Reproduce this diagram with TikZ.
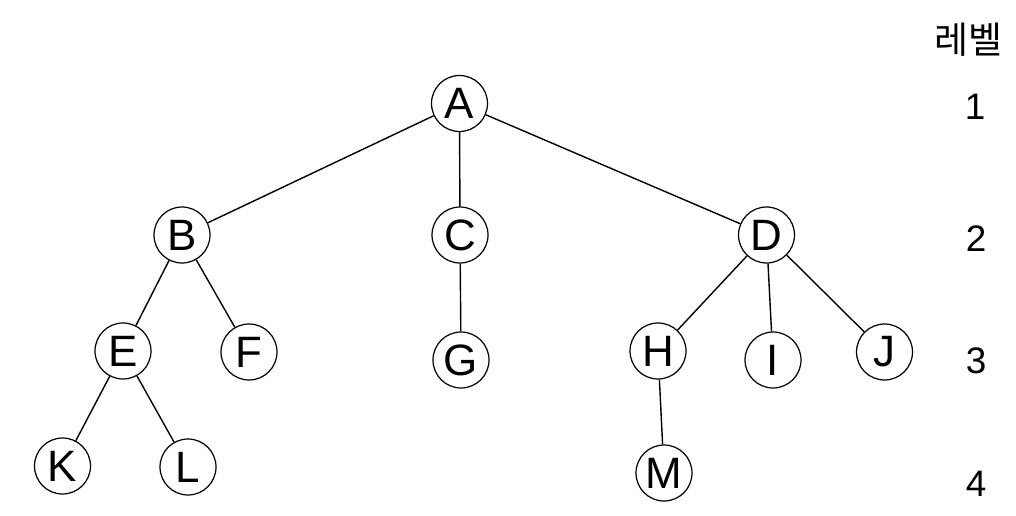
\documentclass[tikz,border=0pt]{standalone}
\usepackage{fontspec}
\setmainfont{Liberation Sans}
\newfontfamily\kofont{Noto Sans CJK KR}

\begin{document}
\begin{tikzpicture}[x = 0.02cm, y = -0.02cm,
    nodo/.style = {draw, circle, line width=0.7pt, minimum size=1.12cm, inner sep=0pt,
                   font=\fontsize{25}{30}\selectfont},
    livello/.style = {font=\fontsize{21}{25}\selectfont},
    ramo/.style = {line width=0.8pt}]

    \useasboundingbox (0,0) rectangle (1016,516);

    % Nodi
    \node[nodo] (A) at (459.5,103.5) {A};
    \node[nodo] (B) at (182,235) {B};
    \node[nodo] (C) at (460,235) {C};
    \node[nodo] (D) at (766.5,235) {D};
    \node[nodo] (E) at (123,351) {E};
    \node[nodo] (F) at (249,352) {F};
    \node[nodo] (G) at (461,360) {G};
    \node[nodo] (H) at (658,351) {H};
    \node[nodo] (I) at (773,360) {I};
    \node[nodo] (J) at (884.5,352) {J};
    \node[nodo] (K) at (62.5,466) {K};
    \node[nodo] (L) at (188,467) {L};
    \node[nodo] (M) at (664,473) {M};

    % Rami
    \draw[ramo] (A) -- (B);
    \draw[ramo] (A) -- (C);
    \draw[ramo] (A) -- (D);
    \draw[ramo] (B) -- (E);
    \draw[ramo] (B) -- (F);
    \draw[ramo] (C) -- (G);
    \draw[ramo] (D) -- (H);
    \draw[ramo] (D) -- (I);
    \draw[ramo] (D) -- (J);
    \draw[ramo] (E) -- (K);
    \draw[ramo] (E) -- (L);
    \draw[ramo] (H) -- (M);

    % Livelli
    \node[font=\kofont\fontsize{21}{25}\selectfont] (titolo) at (968,40) {레벨};
    \node[livello] (liv1) at (975,106.5) {1};
    \node[livello] (liv2) at (976,238.5) {2};
    \node[livello] (liv3) at (976,360.5) {3};
    \node[livello] (liv4) at (976,484) {4};

\end{tikzpicture}
\end{document}
